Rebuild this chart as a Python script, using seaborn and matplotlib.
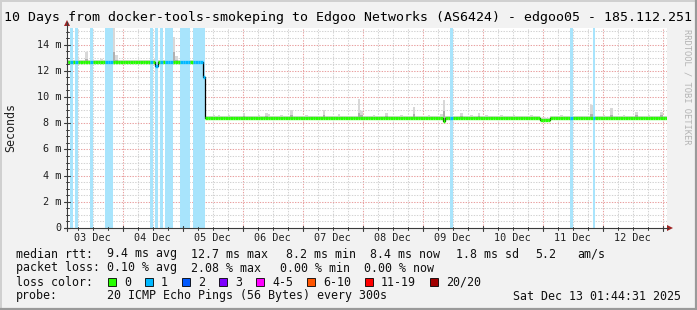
import numpy as np
import pandas as pd
import matplotlib
matplotlib.use("Agg")
import matplotlib.pyplot as plt
from matplotlib.patches import Rectangle, Polygon
from matplotlib.lines import Line2D
import seaborn as sns

# ---------------- data ----------------
title = "10 Days from docker-tools-smokeping to Edgoo Networks (AS6424) - edgoo05 - 185.112.251"
day_labels = ["03 Dec", "04 Dec", "05 Dec", "06 Dec", "07 Dec",
              "08 Dec", "09 Dec", "10 Dec", "11 Dec", "12 Dec"]
ytick_values = [0, 2, 4, 6, 8, 10, 12, 14]
ytick_labels = ["0", "2 m", "4 m", "6 m", "8 m", "10 m", "12 m", "14 m"]

# hourly consolidated steps, hours since 03 Dec 00:00
step_hours = list(range(1, 242))
# median rtt levels (ms): (from hour, to hour, value)
median_levels = [(1, 37, 12.65), (37, 38, 12.35), (38, 56, 12.65), (56, 57, 11.5),
                 (57, 152, 8.38), (152, 153, 8.15), (153, 191, 8.38),
                 (191, 195, 8.25), (195, 242, 8.38)]
# hours with packet loss (loss class "1")
loss_hours = [3, 5, 11, 17, 18, 19, 35, 37, 39, 41, 42, 43, 47, 48, 49, 50,
              52, 53, 54, 55, 56, 155, 203, 212]
# smoke spikes: hour, outer top (ms), inner top (ms)
smoke_hours = [9, 13, 15, 20, 21, 30, 36, 44, 45, 60, 62, 66, 72, 78, 81, 82, 87, 91,
               97, 104, 110, 118, 119, 124, 129, 135, 140, 146, 151, 152, 159, 163,
               166, 169, 175, 180, 187, 199, 204, 206, 208, 211, 216, 219, 224, 229,
               234, 239]
smoke_top = [13.4, 12.85, 12.9, 15.3, 13.2, 12.85, 12.9, 14.6, 13.1, 8.6, 8.65, 8.6, 8.75,
             8.6, 8.8, 8.7, 8.6, 9.0, 8.65, 9.0, 8.7, 9.85, 8.9, 8.6, 8.8, 8.65, 9.25,
             8.6, 8.7, 9.8, 8.8, 8.6, 8.8, 8.65, 8.65, 8.6, 8.6, 8.6, 8.57, 8.57, 8.57,
             9.4, 8.6, 9.15, 8.6, 8.85, 8.6, 8.85]
smoke_core = [12.9, 12.75, 12.75, 13.4, 12.8, 12.75, 12.75, 13.4, 12.8, 8.5, 8.5, 8.5, 8.55,
              8.5, 8.55, 8.5, 8.5, 8.6, 8.5, 8.6, 8.5, 8.8, 8.6, 8.5, 8.55, 8.5, 8.7,
              8.5, 8.5, 8.9, 8.55, 8.5, 8.55, 8.5, 8.5, 8.5, 8.5, 8.5, 8.5, 8.5, 8.5,
              8.7, 8.5, 8.65, 8.5, 8.6, 8.5, 8.6]
# drop step: smoke spans down to
drop_hour = 56
drop_low = 11.1

loss_labels = ["0", "1", "2", "3", "4-5", "6-10", "11-19", "20/20"]
loss_colors = ["#26ff00", "#00b8ff", "#0059ff", "#7e00ff", "#ff00ff",
               "#ff5500", "#ff0000", "#a10000"]

legend_rows = [
    [("median rtt:", 16), ("9.4 ms avg", 107), ("12.7 ms max", 191), ("8.2 ms min", 286),
     ("8.4 ms now", 370), ("1.8 ms sd", 456), ("5.2", 535), ("am/s", 577)],
    [("packet loss:", 16), ("0.10 % avg", 107), ("2.08 % max", 191), ("0.00 % min", 280),
     ("0.00 % now", 364)],
]
probe_text = "20 ICMP Echo Pings (56 Bytes) every 300s"
stamp_text = "Sat Dec 13 01:44:31 2025"

# ---------------- layout ----------------
W, H = 697, 310
X0, X1, Y0, Y1 = 67, 667, 228, 28        # plot area in pixels
T0 = 1.742                               # hours since 03 Dec 00:00 at left edge
T1 = T0 + 240
YMAX = 200 / 13.1

sns.set_style("white")
plt.rcParams["font.family"] = ["DejaVu Sans Mono", "DejaVu Sans"]

fig = plt.figure(figsize=(W / 100, H / 100), dpi=100, facecolor="#f2f2f2")
ax = fig.add_axes([X0 / W, 1 - Y0 / H, (X1 - X0) / W, (Y0 - Y1) / H])
ax.set_facecolor("white")
ax.set_xlim(T0, T1)
ax.set_ylim(0, YMAX)
for s in ax.spines.values():
    s.set_visible(False)
ax.set_xticks([])
ax.set_yticks([])


def fx(x):
    return x / W


def fy(y):
    return 1 - y / H


def px_x(h):
    return X0 + (h - T0) * (X1 - X0) / (T1 - T0)


def px_y(v):
    return Y0 - v * (Y0 - Y1) / YMAX


def fline(x0, y0, x1, y1, **kw):
    fig.add_artist(Line2D([fx(x0), fx(x1)], [fy(y0), fy(y1)], transform=fig.transFigure, **kw))


# grid
gray, red = "#d2d2d2", "#e9a0a0"
for t in range(6, 244, 6):
    if T0 < t < T1:
        ax.axvline(t, color=red if t % 24 == 0 else gray, lw=0.75,
                   ls=(0, (1.3, 1.3)), zorder=1)
for k in range(1, 31):
    v = k * 0.5
    if v < YMAX:
        ax.axhline(v, color=red if k % 4 == 0 else gray, lw=0.75,
                   ls=(0, (1.3, 1.3)), zorder=1)

# median per step
med = []
for h in step_hours:
    for a, b, v in median_levels:
        if a <= h < b:
            med.append(v)
            break
med = np.array(med)
hrs = np.array(step_hours, dtype=float)

# smoke
top = med + 0.16
core = med + 0.07
bot = med - 0.08
for h, t, c in zip(smoke_hours, smoke_top, smoke_core):
    i = step_hours.index(h)
    top[i] = t
    core[i] = c
i = step_hours.index(drop_hour)
bot[i] = drop_low
top[i] = med[i - 1]
core[i] = med[i - 1] - 0.3
ax.bar(hrs, top - bot, bottom=bot, width=1, align="edge", color="#d8d8d8", lw=0, zorder=2)
ax.bar(hrs, core - bot, bottom=bot, width=1, align="edge", color="#b0b0b0", lw=0, zorder=2)

# loss bands
ax.bar(np.array(loss_hours, dtype=float), YMAX, width=1.0, align="edge",
       color="#a8e4fc", lw=0, zorder=3)

# thin black connectors where the median changes level
rows = []
for j in range(1, len(med)):
    if med[j] != med[j - 1]:
        rows.append({"seg": j, "t": hrs[j], "ms": med[j - 1]})
        rows.append({"seg": j, "t": hrs[j], "ms": med[j]})
conn = pd.DataFrame(rows)
n_before = len(ax.lines)
sns.lineplot(data=conn, x="t", y="ms", units="seg", estimator=None, sort=False,
             color="black", lw=0.9, ax=ax)
for ln in ax.lines[n_before:]:
    ln.set_zorder(4)
ax.set_xlabel("")
ax.set_ylabel("")
# coloured median by loss
cols = [loss_colors[1] if h in loss_hours else loss_colors[0] for h in step_hours]
ax.hlines(med, hrs, hrs + 1, colors=cols, lw=2.4, zorder=6, capstyle="butt")
ax.set_xlim(T0, T1)
ax.set_ylim(0, YMAX)

# axes lines, ticks, arrows
axis_c = "#3a3a3a"
fline(X0, Y0 + 3, X0, 22, color=axis_c, lw=0.8)
fline(X0 - 3, Y0, 668, Y0, color=axis_c, lw=0.8)
for k in range(0, 31):
    v = k * 0.5
    if v < YMAX:
        y = px_y(v)
        if k % 4 == 0:
            fline(X0 - 3, y, X0 + 3, y, color=axis_c, lw=0.8)
        else:
            fline(X0 - 1, y, X0 + 2, y, color=axis_c, lw=0.7)
for t in range(6, 244, 6):
    if T0 < t < T1:
        x = px_x(t)
        if t % 24 == 0:
            fline(x, Y0 - 2, x, Y0 + 3, color=axis_c, lw=0.8)
        else:
            fline(x, Y0 - 1, x, Y0 + 2, color=axis_c, lw=0.7)
arrow_c = "#9e2323"
fig.add_artist(Polygon([[fx(X0 - 3), fy(26)], [fx(X0 + 3), fy(26)], [fx(X0), fy(20)]],
                       closed=True, transform=fig.transFigure, color=arrow_c, lw=0))
fig.add_artist(Polygon([[fx(667), fy(Y0 - 3)], [fx(667), fy(Y0 + 3)], [fx(673), fy(Y0)]],
                       closed=True, transform=fig.transFigure, color=arrow_c, lw=0))

# texts
fs_axis, fs_leg, fs_title = 7.3, 8.4, 9.5
fig.text(fx(W / 2), fy(18), title, ha="center", va="center", fontsize=fs_title, color="black")
for v, lab in zip(ytick_values, ytick_labels):
    fig.text(fx(61), fy(px_y(v)), lab, ha="right", va="center", fontsize=fs_axis, color="#202020")
for d, lab in enumerate(day_labels):
    fig.text(fx(px_x(d * 24 + 12)), fy(238), lab, ha="center", va="center",
             fontsize=fs_axis, color="#202020")
fig.text(fx(11), fy(128), "Seconds", rotation=90, ha="center", va="center",
         fontsize=fs_leg, color="#202020")
fig.text(fx(687), fy(87), "RRDTOOL / TOBI OETIKER", rotation=-90, ha="center", va="center",
         fontsize=6.3, color="#b4b4b4")

rows_y = [254, 268, 282, 296]
for row, y in zip(legend_rows, rows_y[:2]):
    for txt, x in row:
        fig.text(fx(x), fy(y), txt, ha="left", va="center", fontsize=fs_leg, color="#101010")
fig.text(fx(16), fy(rows_y[2]), "loss color:", ha="left", va="center", fontsize=fs_leg, color="#101010")
sx = 108
for lab, col in zip(loss_labels, loss_colors):
    fig.add_artist(Rectangle((fx(sx), fy(rows_y[2] + 4)), 8 / W, 8 / H, transform=fig.transFigure,
                             facecolor=col, edgecolor="black", lw=0.6))
    fig.text(fx(sx + 16), fy(rows_y[2]), lab, ha="left", va="center", fontsize=fs_leg, color="#101010")
    sx += 37 + 7 * (len(lab) - 1)
fig.text(fx(16), fy(rows_y[3]), "probe:", ha="left", va="center", fontsize=fs_leg, color="#101010")
fig.text(fx(107), fy(rows_y[3]), probe_text, ha="left", va="center", fontsize=fs_leg, color="#101010")
fig.text(fx(681), fy(rows_y[3]), stamp_text, ha="right", va="center", fontsize=fs_leg, color="#101010")

# frame
fline(0.5, 0, 0.5, H, color="#d0d0d0", lw=1.4)
fline(0, 0.5, W, 0.5, color="#d0d0d0", lw=1.4)
fline(W - 1, 0, W - 1, H, color="#9a9a9a", lw=1.6)
fline(0, H - 1, W, H - 1, color="#9a9a9a", lw=1.6)

fig.savefig("out.png", dpi=100, facecolor=fig.get_facecolor())
